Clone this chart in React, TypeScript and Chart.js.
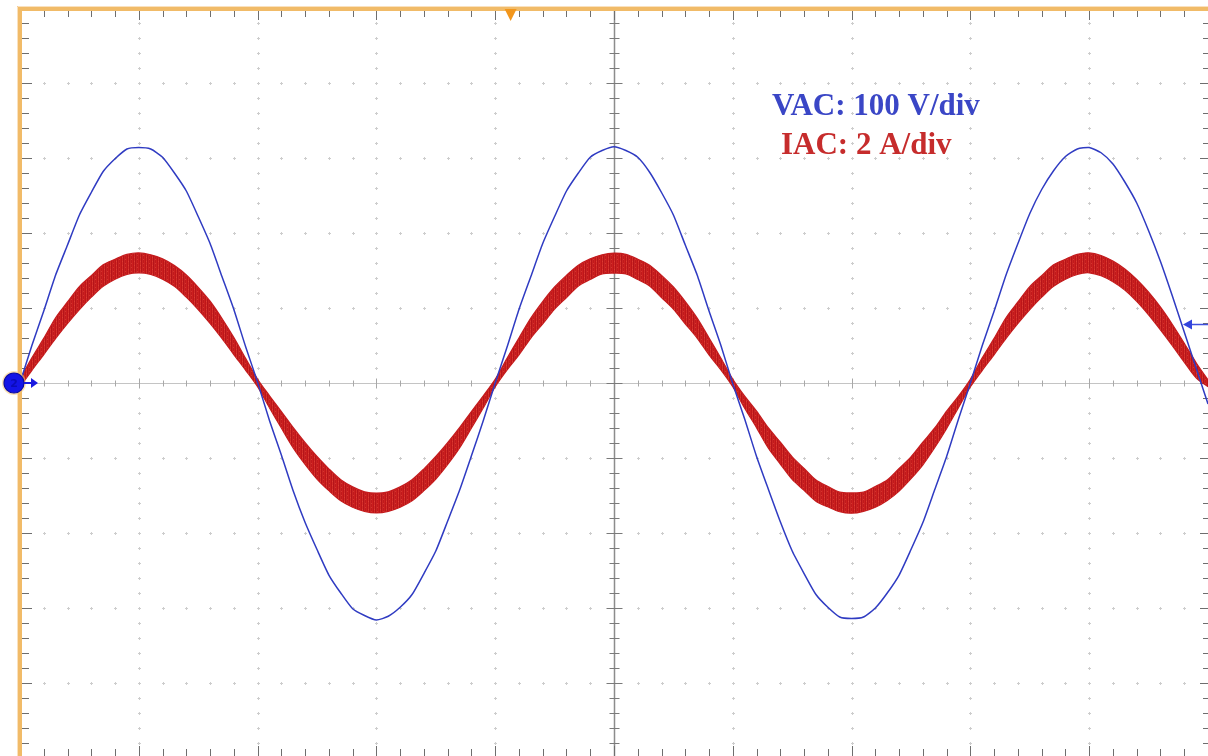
import { useEffect, useRef } from "react";
import { Chart, registerables } from "chart.js";

Chart.register(...registerables);

// ---- Scope settings ----
const TIME_PER_DIV_MS = 5;
const VOLTS_PER_DIV = 100;
const AMPS_PER_DIV = 2;
const SAMPLE_STEP_MS = 0.5;
const TRIGGER_TIME_MS = 20.65;
const TRIGGER_LEVEL_V = 78;

// ---- Waveforms ----
const vac = [
  0, 50, 96, 144, 184, 224, 254, 282, 299, 312, 314,
  312, 301, 280, 256, 222, 186, 142, 98, 48, 1,
  -50, -96, -144, -186, -222, -256, -280, -301, -310, -316,
  -311, -299, -282, -254, -224, -184, -143, -97, -50, 0,
  48, 98, 142, 186, 222, 256, 280, 301, 310, 315,
  310, 301, 281, 254, 224, 184, 144, 96, 50, -1,
  -48, -98, -142, -185, -224, -254, -282, -299, -312, -314,
  -312, -300, -280, -256, -222, -186, -142, -98, -48, 0,
  50, 96, 144, 186, 226, 258, 283, 302, 312, 314,
  307, 292, 268, 240, 203, 162, 116, 68, 20, -28,
];

const iacUpper = [
  0.1, 0.67, 1.19, 1.74, 2.16, 2.57, 2.86, 3.15, 3.3, 3.43, 3.47,
  3.42, 3.31, 3.13, 2.88, 2.55, 2.18, 1.72, 1.21, 0.65, 0.1,
  -0.34, -0.76, -1.19, -1.59, -1.96, -2.29, -2.58, -2.77, -2.9, -2.94,
  -2.9, -2.77, -2.58, -2.29, -1.96, -1.59, -1.19, -0.76, -0.34, 0.1,
  0.66, 1.2, 1.73, 2.17, 2.56, 2.87, 3.14, 3.31, 3.42, 3.46,
  3.43, 3.3, 3.14, 2.87, 2.56, 2.17, 1.73, 1.2, 0.66, 0.1,
  -0.35, -0.75, -1.2, -1.58, -1.97, -2.28, -2.59, -2.76, -2.91, -2.93,
  -2.91, -2.76, -2.59, -2.28, -1.97, -1.58, -1.2, -0.75, -0.35, 0.1,
  0.67, 1.19, 1.74, 2.16, 2.57, 2.86, 3.15, 3.3, 3.43, 3.47,
  3.4, 3.25, 3.04, 2.76, 2.42, 2.02, 1.56, 1.06, 0.54, 0.08,
];

const iacLower = [
  -0.1, 0.34, 0.76, 1.19, 1.59, 1.96, 2.29, 2.58, 2.77, 2.9, 2.94,
  2.9, 2.77, 2.58, 2.29, 1.96, 1.59, 1.19, 0.76, 0.34, -0.1,
  -0.66, -1.2, -1.73, -2.17, -2.56, -2.87, -3.14, -3.31, -3.42, -3.46,
  -3.42, -3.31, -3.14, -2.87, -2.56, -2.17, -1.73, -1.2, -0.66, -0.1,
  0.35, 0.75, 1.2, 1.58, 1.97, 2.28, 2.59, 2.76, 2.91, 2.93,
  2.91, 2.76, 2.59, 2.28, 1.97, 1.58, 1.2, 0.75, 0.35, -0.1,
  -0.67, -1.19, -1.74, -2.16, -2.57, -2.86, -3.15, -3.3, -3.43, -3.47,
  -3.42, -3.31, -3.13, -2.88, -2.55, -2.18, -1.72, -1.21, -0.65, -0.1,
  0.34, 0.76, 1.19, 1.59, 1.96, 2.29, 2.58, 2.77, 2.9, 2.94,
  2.86, 2.7, 2.48, 2.18, 1.82, 1.42, 1.0, 0.56, 0.14, -0.1,
];

const labelVac = "VAC: 100 V/div";
const labelIac = "IAC: 2 A/div";

const toPoints = (arr: number[]) => arr.map((y, i) => ({ x: i * SAMPLE_STEP_MS, y }));

function makeRedPattern(): CanvasPattern | string {
  const c = document.createElement("canvas");
  c.width = 6;
  c.height = 4;
  const g = c.getContext("2d");
  if (!g) return "#c8201f";
  const cols = ["#cc1f1f", "#bd1619", "#d42e28", "#b5141a", "#c92322", "#c01a1c"];
  cols.forEach((col, i) => {
    g.fillStyle = col;
    g.fillRect(i, 0, 1, 4);
  });
  g.fillStyle = "rgba(225,70,60,0.6)";
  g.fillRect(2, 1, 1, 1);
  g.fillRect(5, 3, 1, 1);
  const p = g.createPattern(c, "repeat");
  return p || "#c8201f";
}

const scopePlugin = {
  id: "scopeGrid",
  beforeDatasetsDraw(chart: any) {
    const { ctx, chartArea, scales } = chart;
    const { left, right, top, bottom } = chartArea;
    const x = scales.x;
    const yV = scales.yV;
    const px = (d: number) => x.getPixelForValue(d * TIME_PER_DIV_MS);
    const py = (d: number) => yV.getPixelForValue(d * VOLTS_PER_DIV);
    ctx.save();
    ctx.fillStyle = "#ffffff";
    ctx.fillRect(0, 0, chart.width, chart.height);

    // dotted graticule
    ctx.fillStyle = "#cdcdcd";
    for (let j = 1; j < 10; j++) {
      if (j === 5) continue;
      const X = Math.round(px(j));
      for (let m = -25; m <= 25; m++) {
        const Y = Math.round(py(m / 5));
        if (Y < top + 4 || Y > bottom - 2) continue;
        ctx.fillRect(X - 1, Y, 3, 1);
        ctx.fillRect(X, Y - 1, 1, 3);
      }
    }
    for (let k = -4; k <= 4; k++) {
      if (k === 0) continue;
      const Y = Math.round(py(k));
      for (let m = 1; m < 50; m++) {
        const X = Math.round(px(m / 5));
        ctx.fillRect(X - 1, Y, 3, 1);
        ctx.fillRect(X, Y - 1, 1, 3);
      }
    }

    // center horizontal axis
    const Y0 = Math.round(py(0)) + 0.5;
    ctx.strokeStyle = "#c4c4c4";
    ctx.lineWidth = 1;
    ctx.beginPath();
    ctx.moveTo(left, Y0);
    ctx.lineTo(right, Y0);
    ctx.stroke();
    ctx.strokeStyle = "#a8a8a8";
    for (let m = 1; m < 50; m++) {
      const X = Math.round(px(m / 5)) + 0.5;
      const h = m % 5 === 0 ? 5 : 3;
      ctx.beginPath();
      ctx.moveTo(X, Y0 - h);
      ctx.lineTo(X, Y0 + h);
      ctx.stroke();
    }

    // center vertical axis
    const X5 = Math.round(px(5)) + 0.5;
    ctx.strokeStyle = "#8c8c8c";
    ctx.lineWidth = 1.5;
    ctx.beginPath();
    ctx.moveTo(X5, top);
    ctx.lineTo(X5, bottom);
    ctx.stroke();
    ctx.lineWidth = 1;
    ctx.strokeStyle = "#7a7a7a";
    for (let m = -25; m <= 25; m++) {
      const Y = Math.round(py(m / 5)) + 0.5;
      if (Y < top + 4 || Y > bottom) continue;
      const w = m % 5 === 0 ? 8 : 5;
      ctx.beginPath();
      ctx.moveTo(X5 - w, Y);
      ctx.lineTo(X5 + w, Y);
      ctx.stroke();
    }

    // border ticks
    ctx.strokeStyle = "#6e6e6e";
    for (let m = 1; m < 50; m++) {
      const X = Math.round(px(m / 5)) + 0.5;
      const h = m % 5 === 0 ? 10 : 7;
      ctx.beginPath();
      ctx.moveTo(X, top + 2);
      ctx.lineTo(X, top + 2 + h);
      ctx.moveTo(X, bottom);
      ctx.lineTo(X, bottom - h);
      ctx.stroke();
    }
    for (let m = -25; m <= 25; m++) {
      const Y = Math.round(py(m / 5)) + 0.5;
      if (Y < top + 4 || Y > bottom) continue;
      const w = m % 5 === 0 ? 10 : 7;
      ctx.beginPath();
      ctx.moveTo(left + 2, Y);
      ctx.lineTo(left + 2 + w, Y);
      ctx.moveTo(right, Y);
      ctx.lineTo(right - w + 2, Y);
      ctx.stroke();
    }
    ctx.restore();
  },
  afterDatasetsDraw(chart: any) {
    const { ctx, chartArea, scales } = chart;
    const { left, right, top, bottom } = chartArea;
    const x = scales.x;
    const yV = scales.yV;
    ctx.save();

    // orange frame
    ctx.fillStyle = "#f1bb68";
    ctx.fillRect(left - 2, top - 1, right - left + 2, 4);
    ctx.fillRect(left - 2, top - 1, 4, bottom - top + 1);
    ctx.fillStyle = "rgba(240,170,70,0.35)";
    ctx.fillRect(left - 3, top - 2, right - left + 3, 1);
    ctx.fillRect(left - 3, top - 2, 1, bottom - top + 2);

    // trigger position marker
    const tx = x.getPixelForValue(TRIGGER_TIME_MS);
    ctx.fillStyle = "#f2961c";
    ctx.beginPath();
    ctx.moveTo(tx - 6, top + 1);
    ctx.lineTo(tx + 6, top + 1);
    ctx.lineTo(tx, top + 13);
    ctx.closePath();
    ctx.fill();

    // channel ground marker (left)
    const gy = yV.getPixelForValue(0);
    ctx.fillStyle = "rgba(245,200,120,0.55)";
    ctx.beginPath();
    ctx.arc(14, gy, 12, 0, Math.PI * 2);
    ctx.fill();
    ctx.fillStyle = "#1414e6";
    ctx.strokeStyle = "#0a0aa0";
    ctx.lineWidth = 1.2;
    ctx.beginPath();
    ctx.arc(14, gy, 10, 0, Math.PI * 2);
    ctx.fill();
    ctx.stroke();
    ctx.fillStyle = "#0b0bb8";
    ctx.font = "bold 11px 'DejaVu Sans', sans-serif";
    ctx.textAlign = "center";
    ctx.textBaseline = "middle";
    ctx.fillText("2", 14, gy + 1);
    ctx.strokeStyle = "#1a1ae0";
    ctx.lineWidth = 2;
    ctx.beginPath();
    ctx.moveTo(24, gy);
    ctx.lineTo(33, gy);
    ctx.stroke();
    ctx.fillStyle = "#1a1ae0";
    ctx.beginPath();
    ctx.moveTo(31, gy - 5);
    ctx.lineTo(38, gy);
    ctx.lineTo(31, gy + 5);
    ctx.closePath();
    ctx.fill();

    // trigger level marker (right)
    const ly = yV.getPixelForValue(TRIGGER_LEVEL_V);
    ctx.strokeStyle = "#4050dd";
    ctx.lineWidth = 1.5;
    ctx.beginPath();
    ctx.moveTo(1190, ly);
    ctx.lineTo(right, ly);
    ctx.stroke();
    ctx.fillStyle = "#3344dd";
    ctx.beginPath();
    ctx.moveTo(1183, ly);
    ctx.lineTo(1192, ly - 5);
    ctx.lineTo(1192, ly + 5);
    ctx.closePath();
    ctx.fill();

    // scale labels
    ctx.textAlign = "left";
    ctx.textBaseline = "alphabetic";
    ctx.font = "bold 31px 'Liberation Serif', 'Times New Roman', serif";
    ctx.fillStyle = "#3a46c6";
    ctx.fillText(labelVac, 772, 115);
    ctx.fillStyle = "#c62c2c";
    ctx.fillText(labelIac, 781, 154);

    ctx.restore();
  },
};

export default function App() {
  const ref = useRef<HTMLCanvasElement | null>(null);

  useEffect(() => {
    const canvas = ref.current;
    if (!canvas) return;
    const redFill = makeRedPattern();
    const chart = new Chart(canvas, {
      type: "line",
      data: {
        datasets: [
          {
            label: "VAC",
            data: toPoints(vac),
            yAxisID: "yV",
            borderColor: "#2f3bc2",
            borderWidth: 1.5,
            pointRadius: 0,
            tension: 0.2,
            fill: false,
          },
          {
            label: "IAC upper",
            data: toPoints(iacUpper),
            yAxisID: "yA",
            borderColor: "#c41c1e",
            borderWidth: 1.3,
            pointRadius: 0,
            tension: 0.3,
            fill: "+1",
            backgroundColor: redFill as any,
          },
          {
            label: "IAC lower",
            data: toPoints(iacLower),
            yAxisID: "yA",
            borderColor: "#c41c1e",
            borderWidth: 1.3,
            pointRadius: 0,
            tension: 0.3,
            fill: false,
          },
        ],
      },
      options: {
        responsive: false,
        animation: false,
        events: [],
        layout: { padding: { left: 20, top: 8, right: 0, bottom: 0 } },
        plugins: {
          legend: { display: false },
          tooltip: { enabled: false },
          title: { display: false },
        },
        scales: {
          x: { type: "linear", min: 0, max: 10 * TIME_PER_DIV_MS, display: false },
          yV: { type: "linear", min: -4.973 * VOLTS_PER_DIV, max: 5 * VOLTS_PER_DIV, display: false },
          yA: { type: "linear", min: -4.973 * AMPS_PER_DIV, max: 5 * AMPS_PER_DIV, display: false },
        },
      },
      plugins: [scopePlugin],
    });
    return () => chart.destroy();
  }, []);

  return (
    <div style={{ position: "fixed", left: 0, top: 0, width: 1208, height: 756, background: "#fff" }}>
      <canvas ref={ref} width={1208} height={756} style={{ display: "block" }} />
    </div>
  );
}
